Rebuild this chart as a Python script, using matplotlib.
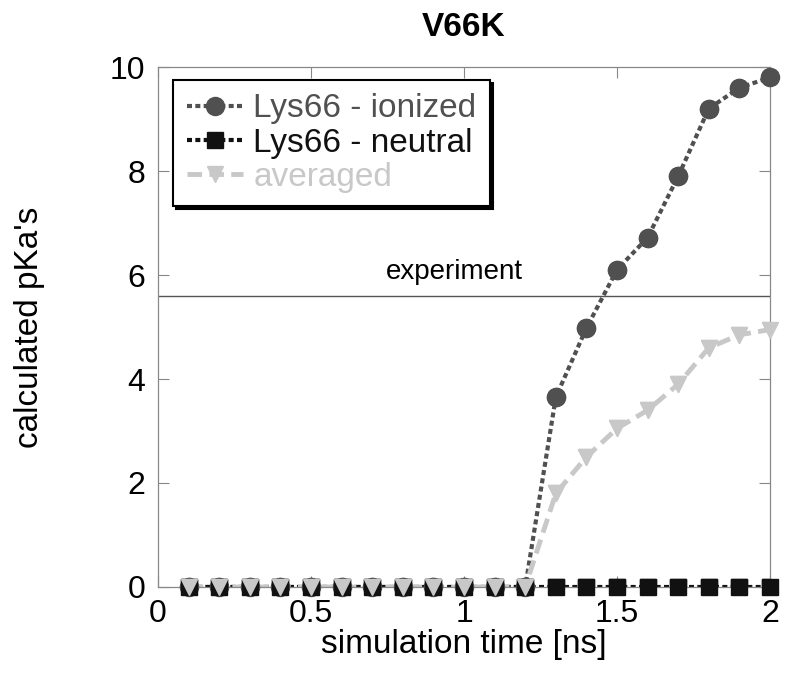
import matplotlib
matplotlib.use('Agg')
import matplotlib.pyplot as plt
import numpy as np

# simulation time [ns]
time_ns = [0.1, 0.2, 0.3, 0.4, 0.5, 0.6, 0.7, 0.8, 0.9, 1.0,
           1.1, 1.2, 1.3, 1.4, 1.5, 1.6, 1.7, 1.8, 1.9, 2.0]
ionized = [0, 0, 0, 0, 0, 0, 0, 0, 0, 0,
           0, 0, 3.65, 4.98, 6.1, 6.72, 7.9, 9.2, 9.6, 9.8]
neutral = [0] * 20
averaged = [0, 0, 0, 0, 0, 0, 0, 0, 0, 0,
            0, 0, 1.8, 2.5, 3.05, 3.4, 3.9, 4.6, 4.85, 4.95]
experiment = 5.6
xticks = [0, 0.5, 1, 1.5, 2]
xticklabels = ['0', '0.5', '1', '1.5', '2']
yticks = [0, 2, 4, 6, 8, 10]

plt.rcParams['font.family'] = ['Liberation Sans', 'DejaVu Sans']

fig = plt.figure(figsize=(7.87, 6.79), dpi=100)
ax = fig.add_axes([0.2008, 0.1355, 0.7776, 0.7658])

c_ion = '#505050'
c_neu = '#111111'
c_avg = '#c8c8c8'

ax.axhline(experiment, color='#555555', lw=1.0, zorder=1)
ax.text(0.97, experiment + 0.2, 'experiment', fontsize=20, ha='center', va='bottom')

series = [
    (ionized, c_ion, (0, (1.2, 0.8)), 3, 'o', 13, 'Lys66 - ionized'),
    (neutral, c_neu, (0, (1.2, 0.8)), 3, 's', 11, 'Lys66 - neutral'),
    (averaged, c_avg, (0, (3, 1.5)), 3.5, 'v', 11, 'averaged'),
]
handles = []
for i, (y, c, ls, lw, m, ms, lab) in enumerate(series):
    # line clipped to the axes, markers drawn on top of the axis line
    h, = ax.plot(time_ns, y, color=c, ls=ls, lw=lw, marker=m, ms=ms,
                 label=lab, zorder=2)
    ax.plot(time_ns, y, color=c, ls='none', marker=m, ms=ms,
            clip_on=False, zorder=3 + i)
    handles.append(h)

ax.set_xlim(0, 2)
ax.set_ylim(0, 10)
ax.set_xticks(xticks)
ax.set_xticklabels(xticklabels)
ax.set_yticks(yticks)
ax.tick_params(direction='in', length=8, width=0.8, color='#888888',
               top=True, right=True, labelsize=23, pad=9)
for s in ax.spines.values():
    s.set_color('#888888')
    s.set_linewidth(0.9)
    s.set_zorder(2.5)

ax.set_xlabel('simulation time [ns]', fontsize=24, labelpad=0)
ax.set_ylabel("calculated pKa's", fontsize=24, labelpad=47)
ax.set_title('V66K', fontsize=24, fontweight='bold', pad=22)

leg = ax.legend(handles=handles, loc='upper left', bbox_to_anchor=(0.025, 0.975),
                fontsize=24, fancybox=False, edgecolor='black', framealpha=1,
                shadow={'color': 'black', 'alpha': 1}, handlelength=1.7,
                handletextpad=0.3, borderpad=0.4, labelspacing=0.1,
                borderaxespad=0)
leg.set_zorder(10)
leg.get_frame().set_linewidth(1.5)
for t, c in zip(leg.get_texts(), [c_ion, c_neu, c_avg]):
    t.set_color(c)

fig.savefig('out.png', dpi=100)
